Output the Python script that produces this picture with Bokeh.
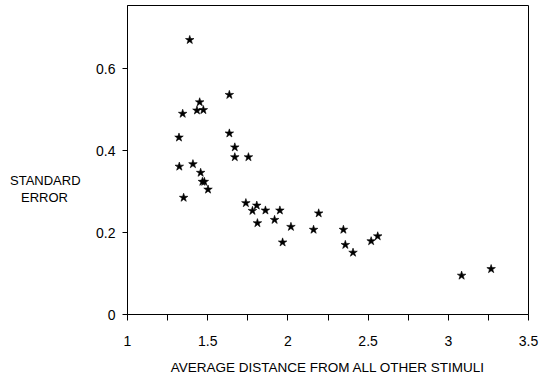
from bokeh.plotting import figure
from bokeh.models import FixedTicker, Range1d, Div
from bokeh.layouts import row
from bokeh.embed import file_html
from bokeh.resources import INLINE

# data
avg_distance = [1.388, 1.635, 1.450, 1.433, 1.473, 1.344, 1.321, 1.635, 1.669, 1.669,
                1.754, 1.323, 1.408, 1.456, 1.467, 1.479, 1.502, 1.350, 1.738, 1.779,
                1.806, 1.860, 1.950, 1.810, 1.917, 2.019, 1.967, 2.160, 2.192, 2.346,
                2.358, 2.406, 2.519, 2.560, 3.083, 3.267]
std_error = [0.670, 0.536, 0.518, 0.498, 0.499, 0.490, 0.432, 0.442, 0.408, 0.384,
             0.384, 0.361, 0.367, 0.346, 0.324, 0.324, 0.305, 0.285, 0.272, 0.253,
             0.266, 0.254, 0.254, 0.223, 0.231, 0.214, 0.176, 0.207, 0.247, 0.207,
             0.170, 0.151, 0.179, 0.191, 0.095, 0.111]
x_major = [1, 1.5, 2, 2.5, 3, 3.5]
x_minor = [1.25, 1.75, 2.25, 2.75, 3.25]
y_major = [0, 0.2, 0.4, 0.6]
y_title = ["STANDARD", "ERROR"]

FONT = "Liberation Sans"
LEFT_W = 84

p = figure(width=542 - LEFT_W, height=379, output_backend="svg", toolbar_location=None,
           x_range=Range1d(1, 3.5), y_range=Range1d(0, 0.754),
           min_border_left=127 - LEFT_W, min_border_right=14, min_border_top=5,
           min_border_bottom=65, margin=0)
p.grid.visible = False
p.outline_line_color = "black"
p.outline_line_width = 1
p.background_fill_color = "white"
p.border_fill_color = "white"

p.scatter(avg_distance, std_error, marker="star", size=9, fill_color="black",
          line_color="black", line_width=0.6)

xa = p.xaxis[0]
xa.ticker = FixedTicker(ticks=x_major, minor_ticks=x_minor)
xa.major_tick_in = 0
xa.major_tick_out = 6
xa.minor_tick_in = 0
xa.minor_tick_out = 6
xa.major_label_standoff = 15
xa.major_label_text_font = FONT
xa.major_label_text_font_size = "14px"
xa.major_label_text_color = "black"
xa.axis_label = "AVERAGE DISTANCE FROM ALL OTHER STIMULI"
xa.axis_label_text_font = FONT
xa.axis_label_text_font_style = "normal"
xa.axis_label_text_font_size = "13.5px"
xa.axis_label_text_color = "black"
xa.axis_label_standoff = 11
xa.axis_line_color = "black"

ya = p.yaxis[0]
ya.ticker = FixedTicker(ticks=y_major, minor_ticks=[])
ya.major_tick_in = 0
ya.major_tick_out = 5
ya.major_label_standoff = 7
ya.major_label_text_font = FONT
ya.major_label_text_font_size = "14px"
ya.major_label_text_color = "black"
ya.axis_line_color = "black"

line_left = [10, 21]
line_top = [172, 189]
spans = "".join(
    '<span style="position:absolute;left:%dpx;top:%dpx;white-space:nowrap">%s</span>'
    % (lx, ty, t) for t, lx, ty in zip(y_title, line_left, line_top))
html = ('<div style="position:relative;width:%dpx;height:379px;'
        'font-family:\'Liberation Sans\',sans-serif;font-size:13px;line-height:17px;'
        'color:black">%s</div>') % (LEFT_W, spans)
div = Div(text=html, width=LEFT_W, height=379, margin=0,
          styles={"background": "white"})

layout = row(div, p, spacing=0, margin=0)
open("out.html", "w").write(file_html(layout, INLINE))
